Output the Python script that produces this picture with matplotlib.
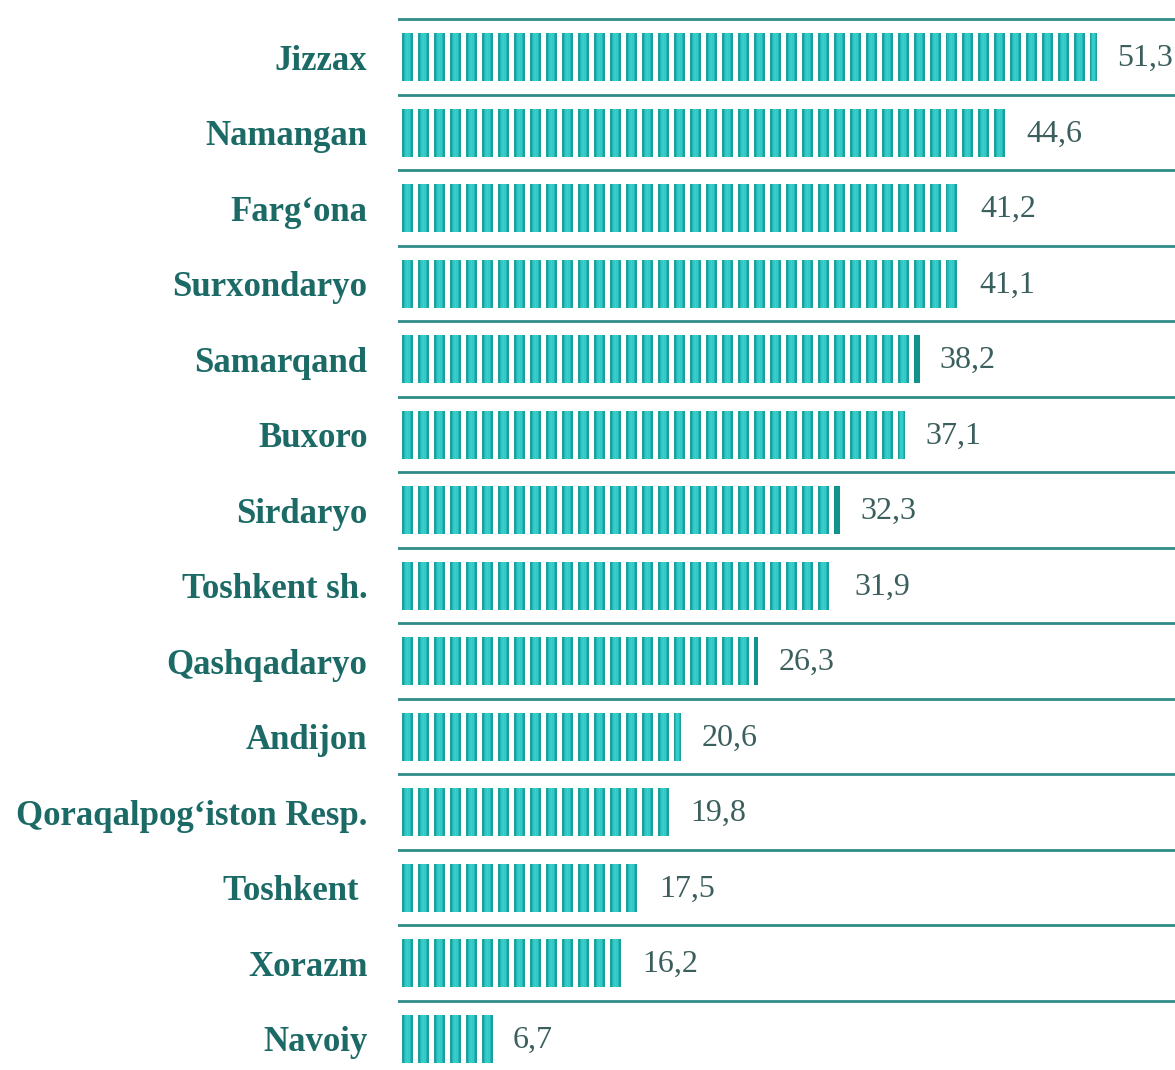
import numpy as np
import matplotlib
matplotlib.use('Agg')
import matplotlib.pyplot as plt
from matplotlib.colors import to_rgb

regions = ['Jizzax', 'Namangan', 'Farg\u2018ona', 'Surxondaryo', 'Samarqand',
           'Buxoro', 'Sirdaryo', 'Toshkent sh.', 'Qashqadaryo', 'Andijon',
           'Qoraqalpog\u2018iston Resp.', 'Toshkent ', 'Xorazm', 'Navoiy']
values = [51.3, 44.6, 41.2, 41.1, 38.2, 37.1, 32.3, 31.9, 26.3, 20.6,
          19.8, 17.5, 16.2, 6.7]
value_labels = ['51,3', '44,6', '41,2', '41,1', '38,2', '37,1', '32,3',
                '31,9', '26,3', '20,6', '19,8', '17,5', '16,2', '6,7']

W, H = 1175, 1070
px_unit = 13.55          # pixels per data unit (x)
row_px = 75.5            # pixels per row
x0_px = 398              # axes left edge
bar0_px = 402            # bar start

fig = plt.figure(figsize=(W / 100, H / 100), dpi=100)
ax = fig.add_axes([x0_px / W, 0, 1 - x0_px / W, 1])
ax.set_xlim(-(bar0_px - x0_px) / px_unit, (W - bar0_px) / px_unit)
top = -0.5 - 19.5 / row_px
ax.set_ylim(top + H / row_px, top)

line_c = '#2f8c87'
edge_c = np.array(to_rgb('#13918c'))
light_c = np.array(to_rgb('#36d0cf'))
label_c = '#1b6a66'
val_c = '#3b5f5d'

period = 16 / px_unit
seg_w = 10.5 / px_unit
bar_h = 0.64
n_strips = 7

for i in range(len(regions) + 1):
    ax.axhline(i - 0.5, color=line_c, lw=2.0, zorder=1)

# cylinder-like shading across each segment
prof = np.sin(np.linspace(0, np.pi, n_strips + 2)[1:-1]) ** 1.5
strip_cols = [edge_c + (light_c - edge_c) * p for p in prof]

for i, v in enumerate(values):
    for s in np.arange(0, v, period):
        w = min(seg_w, v - s)
        if w < seg_w * 0.6:
            ax.add_patch(plt.Rectangle((s, i - bar_h / 2), w, bar_h,
                                       fc=edge_c, ec='none', zorder=2))
            continue
        sw = w / n_strips
        for k, c in enumerate(strip_cols):
            ax.add_patch(plt.Rectangle((s + k * sw, i - bar_h / 2), sw * 1.05,
                                       bar_h, fc=c, ec='none', zorder=2))
    ax.text(v + 1.5, i + 0.02, value_labels[i], ha='left', va='center',
            fontsize=23, color=val_c, family='Liberation Serif')

ax.set_yticks(range(len(regions)))
ax.set_yticklabels(regions, fontsize=25, fontweight='bold', color=label_c,
                   family='Liberation Serif')
ax.tick_params(axis='y', length=0, pad=22)
ax.tick_params(axis='x', bottom=False, labelbottom=False)
for sp in ax.spines.values():
    sp.set_visible(False)

fig.savefig('out.png', dpi=100)
